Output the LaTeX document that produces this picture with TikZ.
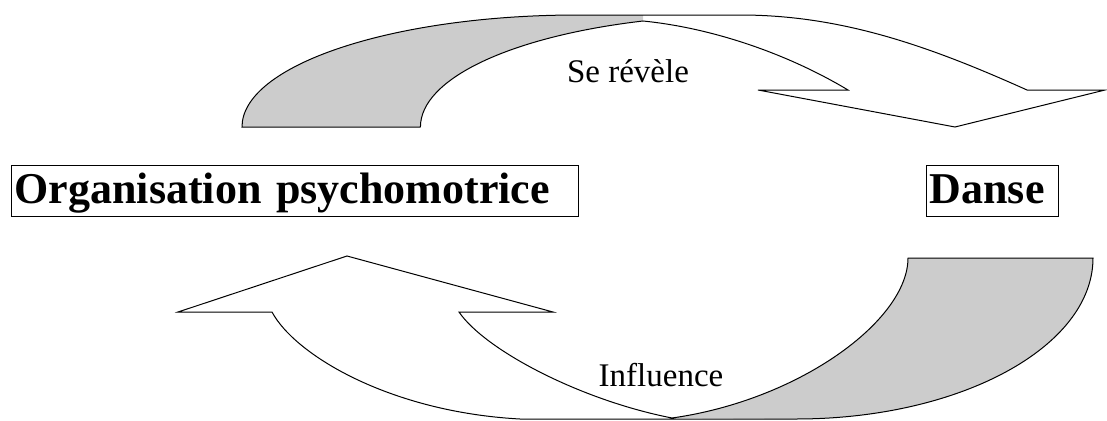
\documentclass[tikz,border=0pt]{standalone}
\usepackage{fontspec}
\setmainfont{Liberation Serif}
\tikzset{every picture/.style={line width=0.75pt}}
\tikzset{
	framed/.style={draw, line width=1.1pt, anchor=north west, align=left, inner xsep=2.25pt, inner ysep=0pt, text height=28pt, text depth=9.2pt, minimum height=38.25pt, font=\fontsize{33}{40}\selectfont\bfseries},
	caption/.style={anchor=base, font=\fontsize{24.75}{30}\selectfont},
	backpart/.style={fill=black!20, draw=none}
}
\begin{document}
\begin{tikzpicture}[x=0.75pt,y=0.75pt,yscale=-1,xscale=1]
	\useasboundingbox (0,0) rectangle (1107,421);

	%Shape: Curved Down Arrow, back part
	\fill [backpart] (242,127) arc [start angle=180, end angle=270, x radius=336, y radius=112] -- (643,15) -- (643,21) arc [start angle=251, end angle=180, x radius=330, y radius=112] -- cycle ;
	%Shape: Curved Down Arrow, outline
	\draw (420,127) -- (242,127) arc [start angle=180, end angle=270, x radius=336, y radius=112] -- (740,15) .. controls (840,15) and (927,45) .. (1027,90) -- (1105,90) -- (955,127) -- (758,90) -- (848,90) .. controls (788,54) and (713,28) .. (643,21) arc [start angle=251, end angle=180, x radius=330, y radius=112] -- cycle ;

	%Shape: Curved Up Arrow, back part
	\fill [backpart] (908,258) -- (1093,258) arc [start angle=0, end angle=90, x radius=297, y radius=161] -- (672,418) .. controls (800,400) and (908,320) .. (908,258) -- cycle ;
	%Shape: Curved Up Arrow, outline
	\draw (908,258) -- (1093,258) arc [start angle=0, end angle=90, x radius=297, y radius=161] -- (520,419) .. controls (390,412) and (295,355) .. (272,312) -- (178,312) -- (347,256) -- (553,312) -- (459,312) .. controls (485,350) and (580,400) .. (672,418) .. controls (800,400) and (908,320) .. (908,258) -- cycle ;

	% Text Node
	\draw (628,82) node [caption] (revele) {Se révèle};
	% Text Node
	\draw (661,386) node [caption] (influence) {Influence};
	% Text Node
	\draw (11,165) node [framed, text width=420.75pt] (orga) {Organisation psychomotrice};
	% Text Node
	\draw (926,165) node [framed, text width=94.5pt] (danse) {Danse};

\end{tikzpicture}
\end{document}
